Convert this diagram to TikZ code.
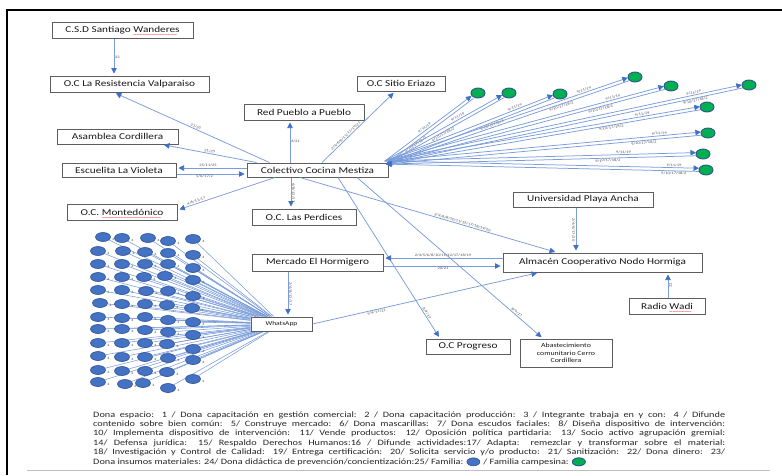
\documentclass[tikz,border=0pt]{standalone}
\usepackage{fontspec}
\setmainfont{Carlito}[FakeStretch=1.25]
\usetikzlibrary{arrows.meta,calc,backgrounds,shapes.geometric}

\definecolor{lineblue}{HTML}{7A9CDA}
\definecolor{tipblue}{HTML}{3F6FC6}
\definecolor{boxgray}{HTML}{5E5E5E}
\definecolor{famblue}{HTML}{4472C4}
\definecolor{famedge}{HTML}{2F528F}
\definecolor{campgreen}{HTML}{00B050}
\definecolor{labgray}{HTML}{505050}

% red wavy spell-check underline built from repeated tildes
\newcommand\spellwave[1]{\leavevmode\setbox0\hbox{#1}%
  \rlap{\raisebox{-4pt}[0pt][0pt]{\textcolor{red}{\fontsize{5}{5}\selectfont
  \leaders\hbox{\char`\~}\hskip\wd0}}}\box0}

\tikzset{
  orgbox/.style={draw=boxgray, line width=1pt, fill=white, inner sep=0pt,
    font=\fontsize{9}{10}\selectfont, text=black!90},
  flow/.style={draw=lineblue, line width=0.75pt, shorten >=2pt,
    -{Triangle[length=5.5pt,width=5.5pt,color=tipblue]}},
  elab/.style={font=\fontsize{3.6}{4}\selectfont, text=labgray, inner sep=0.8pt},
  famnode/.style={ellipse, draw=famedge, fill=famblue, line width=0.6pt,
    minimum width=15pt, minimum height=9pt, inner sep=0pt},
  campnode/.style={ellipse, draw=famedge, fill=campgreen, line width=0.9pt,
    minimum width=14pt, minimum height=10pt, inner sep=0pt},
  link/.style={draw=lineblue, line width=0.55pt},
  numlab/.style={font=\fontsize{3.4}{4}\selectfont, text=labgray, inner sep=0pt},
  legend/.style={font=\fontsize{8.2}{9}\selectfont, text=black!85, inner sep=0pt, anchor=base west},
}

\begin{document}
\begin{tikzpicture}[x=1pt,y=-1pt]
\useasboundingbox (0,0) rectangle (782,475);

% frame
\draw[black, line width=1.2pt] (7,475) -- (7,10) -- (782,10);
\draw[black!25, line width=1.5pt] (27,470.5) -- (770,470.5);

% organisations
\node[orgbox, minimum width=141pt, minimum height=16pt] (wan) at (122.5,30) {C.S.D Santiago \spellwave{Wanderes}};
\node[orgbox, minimum width=159pt, minimum height=16pt] (res) at (129.5,84) {O.C La Resistencia Valparaiso};
\node[orgbox, minimum width=120pt, minimum height=16pt] (red) at (304,112) {Red Pueblo a Pueblo};
\node[orgbox, minimum width=121pt, minimum height=15pt] (asa) at (117.5,136.5) {Asamblea Cordillera};
\node[orgbox, minimum width=88pt, minimum height=15pt] (sit) at (401,83.5) {O.C Sitio Eriazo};
\node[orgbox, minimum width=114pt, minimum height=14pt] (esc) at (119,170) {Escuelita La Violeta};
\node[orgbox, minimum width=141pt, minimum height=14pt] (cm) at (317.5,170) {Colectivo Cocina Mestiza};
\node[orgbox, minimum width=110pt, minimum height=16pt] (mon) at (122,212) {O.C. \spellwave{Montedónico}};
\node[orgbox, minimum width=104pt, minimum height=16pt] (per) at (304,217) {O.C. Las Perdices};
\node[orgbox, minimum width=131pt, minimum height=17pt] (mer) at (317.5,262.5) {Mercado El Hormigero};
\node[orgbox, minimum width=140pt, minimum height=15pt] (uni) at (583,199.5) {Universidad Playa Ancha};
\node[orgbox, minimum width=199pt, minimum height=19pt] (alm) at (602.5,262.5) {Almacén Cooperativo Nodo Hormiga};
\node[orgbox, minimum width=76pt, minimum height=16pt] (rad) at (667,306) {Radio \spellwave{Wadi}};
\node[orgbox, minimum width=61pt, minimum height=14pt, font=\fontsize{6}{7}\selectfont] (wa) at (281.5,324) {WhatsApp};
\node[orgbox, minimum width=84pt, minimum height=15pt] (pro) at (468,346.5) {O.C Progreso};
\node[orgbox, minimum width=92pt, minimum height=28pt, align=center,
  font=\fontsize{6.3}{7.6}\selectfont] (aba) at (566,353) {Abastecimiento\\comunitario Cerro\\Cordillera};

% connectors between organisations
\draw[flow] ([xshift=-8.5pt]wan.south) -- node[elab, right] {23} ([xshift=-15.5pt]res.north);
\draw[flow] ([xshift=23pt]cm.north west) -- node[elab, sloped, above, pos=0.48] {21/25} ([xshift=-15.5pt]res.south);
\draw[flow] ([xshift=10pt]cm.north west) -- node[elab, sloped, above, pos=0.5] {21/25} ([xshift=44.5pt]asa.south);
\draw[flow] ([yshift=2pt]cm.west) -- node[elab, above, pos=0.55] {25/11/25} ([yshift=2pt]esc.east);
\draw[flow] ([yshift=-4pt]esc.east) -- node[elab, below, pos=0.4] {5/6/17/2} ([yshift=-4pt]cm.west);
\draw[flow] ([xshift=-42.5pt]cm.south) -- node[elab, sloped, above, pos=0.8] {4/6/11/17} ([yshift=2pt]mon.east);
\draw[flow] ([xshift=-26.5pt]cm.south) -- node[elab, sloped, above] {6/8/12/17} ([xshift=-13pt]per.north);
\draw[flow] ([xshift=-27.5pt]cm.north) -- node[elab, right] {4/21} ([xshift=-14pt]red.south);
\draw[flow] ([xshift=4.5pt]cm.north) -- node[elab, sloped, above, pos=0.35] {2/4/6/8/11/17/19/21} ([xshift=-6pt]sit.south);
\draw[flow] ([xshift=-17.5pt]cm.south) -- node[elab, sloped, above, pos=0.63] {2/4/6/8/10/11/12/17/18/19/20} ([xshift=-45.5pt]alm.north);
\draw[flow] ([xshift=20.5pt]cm.south) -- node[elab, sloped, above, pos=0.85] {8/9/17} ([xshift=-28pt]pro.north);
\draw[flow] ([xshift=39.5pt]cm.south) -- node[elab, sloped, above, pos=0.85] {8/9/17} ([xshift=-23pt]aba.north);
\draw[flow] ([yshift=4.5pt]alm.west) -- node[elab, above] {2/4/5/6/8/10/11/12/17/18/19} ([yshift=4.5pt]mer.east);
\draw[flow] ([yshift=-3.5pt]mer.east) -- node[elab, below] {20/21} ([yshift=-3.5pt]alm.west);
\draw[flow] ([xshift=-29.5pt]mer.south) -- node[elab, sloped, above] {2/6/8/12/17} ([xshift=6.5pt]wa.north);
\draw[flow] (wa.east) -- node[elab, sloped, below, pos=0.28] {5/9/11/21} ([xshift=-63.5pt]alm.south);
\draw[flow] ([xshift=-7pt]uni.south) -- node[elab, sloped, below] {2/4/6/17/20} ([xshift=-26.5pt]alm.north);
\draw[flow] ([xshift=1pt]rad.north) -- node[elab, sloped, below] {22} ([xshift=65.5pt]alm.south);

% peasant families, each linked both ways with the collective
\coordinate (hub) at ([xshift=-3pt]cm.north east);
\node[campnode] (g1) at (478,93) {};
\node[campnode] (g2) at (509,93) {};
\node[campnode] (g3) at (560,94) {};
\node[campnode] (g4) at (635,77) {};
\node[campnode] (g5) at (671,86) {};
\node[campnode] (g6) at (749,85) {};
\node[campnode] (g7) at (707,107) {};
\node[campnode] (g8) at (708,133) {};
\node[campnode] (g9) at (703,154) {};
\node[campnode] (g10) at (706,170) {};
\foreach \g/\pa/\pb in {g1/0.45/0.3, g2/0.6/0.45, g3/0.75/0.6, g4/0.8/0.7, g5/0.8/0.75,
                        g6/0.85/0.85, g7/0.8/0.7, g8/0.85/0.8, g9/0.75/0.7, g10/0.9/0.9} {
  \draw[flow, shorten >=7pt] ($(hub)!1.6pt!90:(\g)$) --
    node[elab, sloped, above, pos=\pa] {9/11/19} ($(\g)!1.6pt!-90:(hub)$);
  \draw[flow, shorten <=7pt, shorten >=0.5pt] ($(\g)!1.6pt!90:(hub)$) --
    node[elab, sloped, below, pos=1-\pb] {9/10/17/18/2} ($(hub)!1.6pt!-90:(\g)$);
}

% families joined through WhatsApp
\foreach \px/\py [count=\i] in {
  103/237, 122/238, 148/238, 168/241, 193/239,
  98/251, 123/251, 145/252, 168/253, 193/255,
  98/264, 122/264, 145/264, 168/264, 193/268,
  98/277, 122/277, 144/277, 165/276, 193/280,
  98/290, 122/290, 146/291, 168/291, 193/296,
  100/303, 122/304, 145/304, 167/305, 192/308,
  98/317, 122/318, 145/317, 168/320, 193/322,
  98/329, 122/329, 145/330, 168/332, 193/335,
  98/343, 122/343, 145/343, 167/344, 193/349,
  98/356, 122/357, 145/357, 168/358, 193/360,
  98/370, 122/371, 145/371, 167/372, 193/379,
  98/382, 125/384, 143/383, 168/388} {
  \node[famnode] (b\i) at (\px,\py) {};
  \begin{scope}[on background layer]
    \draw[link] (b\i) -- (wa);
  \end{scope}
  \node[numlab] at (\px+10.5,\py+2.5) {4};
}

% legend
\node[legend] (l1) at (93,417) {\makebox[632pt][s]{Dona espacio: 1 / Dona capacitación en gestión comercial: 2 / Dona capacitación producción: 3 / Integrante trabaja en y con: 4 / Difunde}};
\node[legend] (l2) at (93,426.4) {\makebox[632pt][s]{contenido sobre bien común: 5/ Construye mercado: 6/ Dona mascarillas: 7/ Dona escudos faciales: 8/ Diseña dispositivo de intervención:}};
\node[legend] (l3) at (93,435.8) {\makebox[632pt][s]{10/ Implementa dispositivo de intervención: 11/ Vende productos: 12/ Oposición política partidaria: 13/ Socio activo agrupación gremial:}};
\node[legend] (l4) at (93,445.2) {\makebox[632pt][s]{14/ Defensa jurídica: 15/ Respaldo Derechos Humanos:16 / Difunde actividades:17/ Adapta: remezclar y transformar sobre el material:}};
\node[legend] (l5) at (93,454.6) {\makebox[632pt][s]{18/ Investigación y Control de Calidad: 19/ Entrega certificación: 20/ Solicita servicio y/o producto: 21/ Sanitización: 22/ Dona dinero: 23/}};
\node[legend] (l6) at (93,464) {Dona insumos materiales: 24/ Dona didáctica de prevención/concientización:25/ Familia:};
\node[famnode, minimum width=13pt, minimum height=8pt, anchor=west] (lb) at ([xshift=3pt]l6.east) {};
\node[legend] (l6b) at ([xshift=3pt]lb.east |- l6.base) {/ Familia campesina:};
\node[campnode, minimum width=13pt, minimum height=8pt, anchor=west] (lg) at ([xshift=3pt]l6b.east) {};
\end{tikzpicture}
\end{document}
